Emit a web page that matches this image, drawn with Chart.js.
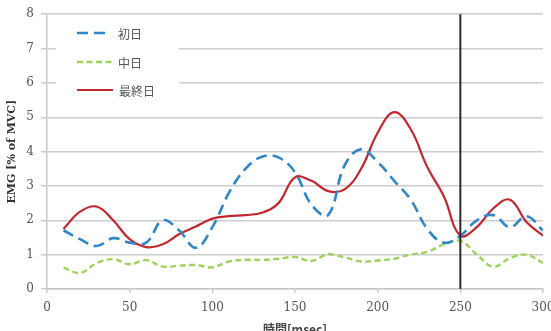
<!DOCTYPE html>
<html>
<head>
<meta charset="utf-8">
<script src="https://cdn.jsdelivr.net/npm/chart.js@4/dist/chart.umd.min.js"></script>
<style>
html,body{margin:0;padding:0;background:#fff;}
#wrap{width:551px;height:331px;position:relative;}
</style>
</head>
<body>
<div id="wrap"><canvas id="c" width="551" height="331"></canvas></div>
<script>
const times = [10,20,30,40,50,60,70,80,90,100,110,120,130,140,150,160,170,180,190,200,210,220,230,240,250,260,270,280,290,300];
const seriesNames = ['初日','中日','最終日'];
const firstDay = [1.71,1.45,1.25,1.48,1.35,1.35,2.0,1.7,1.2,1.8,2.8,3.5,3.85,3.83,3.4,2.45,2.15,3.6,4.07,3.7,3.15,2.6,1.75,1.35,1.55,2.0,2.15,1.8,2.12,1.7];
const midDay = [0.62,0.47,0.75,0.87,0.72,0.84,0.65,0.68,0.70,0.63,0.80,0.85,0.85,0.88,0.93,0.82,1.01,0.92,0.80,0.83,0.88,1.0,1.08,1.3,1.4,1.0,0.65,0.9,1.0,0.76];
const lastDay = [1.75,2.25,2.4,2.0,1.45,1.22,1.3,1.6,1.82,2.05,2.12,2.15,2.22,2.5,3.25,3.15,2.85,2.9,3.5,4.55,5.15,4.65,3.55,2.7,1.55,1.8,2.35,2.6,1.95,1.55];
const markerTimes = [250];
const xTicks = [0,50,100,150,200,250,300];
const yTicks = [0,1,2,3,4,5,6,7,8];

const toPts = arr => times.map((t,i)=>({x:t,y:arr[i]}));

const styles = [
  {color:'#2f86c8', dash:[11,6], width:2.6},
  {color:'#9ed25c', dash:[6,3.5], width:2.4},
  {color:'#c4262e', dash:[], width:2.2}
];

const legendPlugin = {
  id:'customLegend',
  beforeDatasetsDraw(chart){
    const ctx = chart.ctx;
    ctx.save();
    ctx.fillStyle = '#ffffff';
    ctx.fillRect(56, 20, 123, 88);
    ctx.restore();
  },
  afterDatasetsDraw(chart){
    const ctx = chart.ctx;
    const x = chart.scales.x;
    ctx.save();
    markerTimes.forEach(t=>{
      const px = x.getPixelForValue(t);
      ctx.strokeStyle = '#2a2a2a';
      ctx.lineWidth = 2;
      ctx.beginPath();
      ctx.moveTo(px, chart.chartArea.top);
      ctx.lineTo(px, chart.chartArea.bottom);
      ctx.stroke();
    });
    const rows = [33, 62, 90];
    const lens = [[77,106],[77,113],[77,113]];
    const txt = [118,118,119];
    chart.data.datasets.forEach((ds,i)=>{
      const s = styles[i];
      ctx.strokeStyle = s.color;
      ctx.lineWidth = s.width;
      ctx.setLineDash(s.dash);
      ctx.beginPath();
      ctx.moveTo(lens[i][0], rows[i]);
      ctx.lineTo(lens[i][1], rows[i]);
      ctx.stroke();
      ctx.setLineDash([]);
      ctx.fillStyle = '#555';
      ctx.font = '12px "Noto Sans CJK JP", sans-serif';
      ctx.textBaseline = 'middle';
      ctx.textAlign = 'left';
      ctx.fillText(ds.label, txt[i], rows[i]+1);
    });
    ctx.restore();
  }
};

new Chart(document.getElementById('c'), {
  type:'line',
  data:{
    datasets:[firstDay, midDay, lastDay].map((arr,i)=>({
      label: seriesNames[i],
      data: toPts(arr),
      borderColor: styles[i].color,
      borderWidth: styles[i].width,
      borderDash: styles[i].dash,
      pointRadius: 0,
      tension: 0.4,
      fill: false
    }))
  },
  options:{
    responsive:false,
    animation:false,
    devicePixelRatio:1,
    layout:{padding:{left:0,right:8,top:13,bottom:-6}},
    plugins:{legend:{display:false}, tooltip:{enabled:false}},
    scales:{
      x:{
        type:'linear', min:0, max:300,
        afterBuildTicks: s => { s.ticks = xTicks.map(v=>({value:v})); },
        afterFit: s => { s.height = 48; s.paddingLeft = 0; s.paddingRight = 0; },
        grid:{drawOnChartArea:false, drawTicks:true, tickLength:4, color:'#c8c8c8', lineWidth:1.5},
        border:{color:'#c8c8c8', width:1.5},
        ticks:{color:'#555', font:{family:'"DejaVu Serif", serif', size:12}, padding:8, maxRotation:0, autoSkip:false},
        title:{display:true, text:'時間[msec]', color:'#444', font:{family:'"Noto Sans CJK JP", serif', size:12, weight:'bold'}, padding:{top:4,bottom:0}}
      },
      y:{
        min:0, max:8,
        afterBuildTicks: s => { s.ticks = yTicks.map(v=>({value:v})); },
        afterFit: s => { s.width = 47; },
        grid:{color:'#cdcdcd', lineWidth:1.5, drawTicks:true, tickLength:6},
        border:{color:'#c8c8c8', width:1.5},
        ticks:{color:'#555', font:{family:'"DejaVu Serif", serif', size:12}, padding:7},
        title:{display:true, text:'EMG [% of MVC]', color:'#333', font:{family:'"DejaVu Serif", serif', size:11, weight:'bold'}, padding:{top:6,bottom:0}}
      }
    }
  },
  plugins:[legendPlugin]
});
</script>
</body>
</html>
